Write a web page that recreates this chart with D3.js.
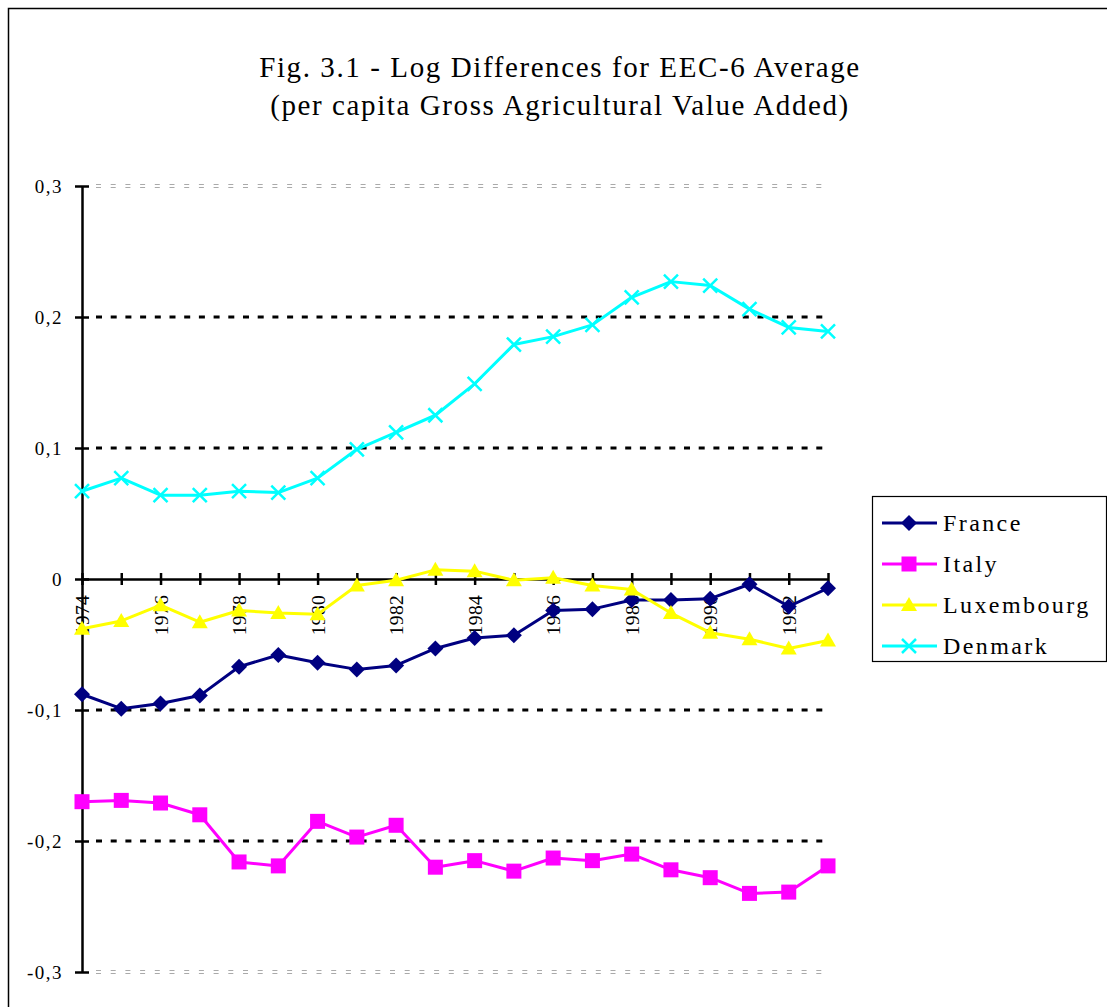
<!DOCTYPE html>
<html lang="en">
<head>
<meta charset="utf-8">
<script src="https://d3js.org/d3.v7.min.js"></script>
<style>
  body, html { margin: 0; padding: 0; background: #fff; }
  svg { display: block; font-family: 'Liberation Serif', 'Times New Roman', serif; }
</style>
</head>
<body>
<div id="chart"></div>
<script>
// data
const years = [1974, 1975, 1976, 1977, 1978, 1979, 1980, 1981, 1982, 1983,
               1984, 1985, 1986, 1987, 1988, 1989, 1990, 1991, 1992, 1993];
const france = [-0.088, -0.099, -0.095, -0.089, -0.067, -0.058, -0.064, -0.069, -0.066, -0.053,
                -0.045, -0.043, -0.024, -0.023, -0.016, -0.016, -0.015, -0.004, -0.021, -0.007];
const italy = [-0.170, -0.169, -0.171, -0.180, -0.216, -0.219, -0.185, -0.197, -0.188, -0.220,
               -0.215, -0.223, -0.213, -0.215, -0.210, -0.222, -0.228, -0.240, -0.239, -0.219];
const luxembourg = [-0.038, -0.032, -0.020, -0.033, -0.024, -0.026, -0.027, -0.005, -0.001, 0.007,
                    0.006, -0.001, 0.001, -0.005, -0.008, -0.026, -0.041, -0.046, -0.053, -0.047];
const denmark = [0.067, 0.077, 0.064, 0.064, 0.067, 0.066, 0.077, 0.099, 0.112, 0.125,
                 0.149, 0.179, 0.185, 0.194, 0.215, 0.227, 0.224, 0.206, 0.192, 0.189];
const seriesNames = ["France", "Italy", "Luxembourg", "Denmark"];
const yTicks = [0.3, 0.2, 0.1, 0, -0.1, -0.2, -0.3];
const xLabelYears = [1974, 1976, 1978, 1980, 1982, 1984, 1986, 1988, 1990, 1992];

const width = 1107;
const height = 1007;

const series = [
  { name: "France", values: france, color: "#000080", marker: "diamond" },
  { name: "Italy", values: italy, color: "#ff00ff", marker: "square" },
  { name: "Luxembourg", values: luxembourg, color: "#ffff00", marker: "triangle" },
  { name: "Denmark", values: denmark, color: "#00ffff", marker: "cross" }
];

const svg = d3.select("#chart").append("svg")
    .attr("width", width)
    .attr("height", height);

// outer frame
svg.append("rect")
    .attr("x", 8.5).attr("y", 8.5)
    .attr("width", 1110).attr("height", 1010)
    .attr("fill", "#fff")
    .attr("stroke", "#000")
    .attr("stroke-width", 1.5);

// title
const title = svg.append("text")
    .attr("text-anchor", "middle")
    .attr("font-size", 29)
    .attr("letter-spacing", 1.6)
    .attr("fill", "#000");
title.append("tspan").attr("x", 560).attr("y", 77).text("Fig. 3.1 - Log Differences for EEC-6 Average");
title.append("tspan").attr("x", 560).attr("y", 115).text("(per capita Gross Agricultural Value Added)");

const x = d3.scaleLinear().domain([1974, 1993]).range([82, 828]);
const y = d3.scaleLinear().domain([-0.3, 0.3]).range([972, 186]);

// gridlines
yTicks.forEach(t => {
  if (t === 0) return;
  if (Math.abs(t) === 0.3) {
    [-1.5, 1.5].forEach(off => {
      svg.append("line")
          .attr("x1", x(1974) + 14).attr("x2", x(1993))
          .attr("y1", y(t) + off).attr("y2", y(t) + off)
          .attr("stroke", "#aaa")
          .attr("stroke-width", 1)
          .attr("stroke-dasharray", "5,9.7");
    });
  } else {
    svg.append("line")
        .attr("x1", x(1974) + 14).attr("x2", x(1993))
        .attr("y1", y(t)).attr("y2", y(t))
        .attr("stroke", "#000")
        .attr("stroke-width", 3)
        .attr("stroke-dasharray", "6,8.7");
  }
});

// y axis
const yAxis = d3.axisLeft(y)
    .tickValues(yTicks)
    .tickSizeInner(7)
    .tickSizeOuter(0)
    .tickPadding(12)
    .tickFormat(d => d === 0 ? "0" : d3.format(".1f")(d).replace("−", "-").replace(".", ","));
const gy = svg.append("g").attr("transform", `translate(${x(1974)},0)`).call(yAxis);
gy.attr("font-family", null).attr("font-size", 19);
gy.select(".domain").attr("stroke", "#000").attr("stroke-width", 2.5);
gy.selectAll(".tick line").attr("stroke", "#000").attr("stroke-width", 2.5).attr("x2", 7).attr("x1", -7);
gy.selectAll(".tick text").attr("fill", "#000").attr("letter-spacing", 1.5);

// x axis at zero
const xAxis = d3.axisBottom(x)
    .tickValues(years)
    .tickSizeInner(6)
    .tickSizeOuter(0)
    .tickFormat("");
const gx = svg.append("g").attr("transform", `translate(0,${y(0)})`).call(xAxis);
gx.select(".domain").attr("stroke", "#000").attr("stroke-width", 2.5);
gx.selectAll(".tick line").attr("stroke", "#000").attr("stroke-width", 2.5).attr("y1", -6).attr("y2", 6);

// rotated year labels
svg.append("g").selectAll("text")
  .data(xLabelYears)
  .join("text")
    .attr("transform", d => `translate(${x(d) + 7},${y(0) + 16}) rotate(-90)`)
    .attr("text-anchor", "end")
    .attr("font-size", 19.5)
    .attr("letter-spacing", 0.3)
    .attr("fill", "#000")
    .text(d => d);

// lines and markers
const line = d3.line()
    .x((d, i) => x(years[i]))
    .y(d => y(d));

function drawMarker(sel, type, color) {
  if (type === "diamond") {
    sel.append("path").attr("d", "M0,-8L8,0L0,8L-8,0Z").attr("fill", color);
  } else if (type === "square") {
    sel.append("rect").attr("x", -7.5).attr("y", -7.5).attr("width", 15).attr("height", 15).attr("fill", color);
  } else if (type === "triangle") {
    sel.append("path").attr("d", "M0,-8L8,6L-8,6Z").attr("fill", color);
  } else {
    sel.append("path").attr("d", "M-7,-7L7,7M-7,7L7,-7")
        .attr("stroke", color).attr("stroke-width", 2.5).attr("fill", "none");
  }
}

series.forEach(s => {
  svg.append("path")
      .datum(s.values)
      .attr("d", line)
      .attr("fill", "none")
      .attr("stroke", s.color)
      .attr("stroke-width", 3)
      .attr("stroke-linejoin", "round");
  svg.append("g").selectAll("g")
    .data(s.values)
    .join("g")
      .attr("transform", (d, i) => `translate(${x(years[i])},${y(d)})`)
      .each(function() { drawMarker(d3.select(this), s.marker, s.color); });
});

// legend
const legend = svg.append("g");
legend.append("rect")
    .attr("x", 872.5).attr("y", 496.5)
    .attr("width", 234).attr("height", 165)
    .attr("fill", "#fff")
    .attr("stroke", "#000")
    .attr("stroke-width", 1.2);
const legY = d3.scalePoint().domain(seriesNames).range([523, 646]);
series.forEach(s => {
  const g = legend.append("g").attr("transform", `translate(0,${legY(s.name)})`);
  g.append("line").attr("x1", 882).attr("x2", 937).attr("y1", 0).attr("y2", 0)
      .attr("stroke", s.color).attr("stroke-width", 3);
  drawMarker(g.append("g").attr("transform", "translate(909,0)"), s.marker, s.color);
  g.append("text")
      .attr("x", 943).attr("y", 8)
      .attr("font-size", 24)
      .attr("letter-spacing", 2.4)
      .attr("fill", "#000")
      .text(s.name);
});
</script>
</body>
</html>
